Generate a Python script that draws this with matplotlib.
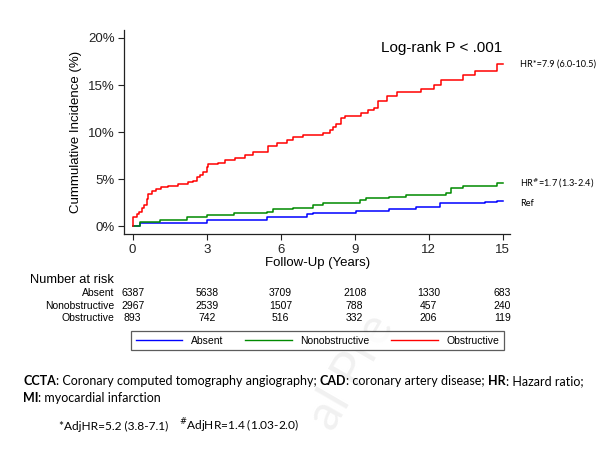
import matplotlib
matplotlib.use("Agg")
import matplotlib.pyplot as plt
import matplotlib.transforms as mtransforms
from matplotlib.lines import Line2D

# ---------------- data ----------------
red_t = [0, 0.03, 0.16, 0.26, 0.36, 0.46, 0.57, 0.63, 0.77, 0.93, 1.15, 1.44, 1.85, 2.25,
         2.46, 2.59, 2.73, 2.86, 3.0, 3.07, 3.47, 3.74, 4.15, 4.55, 4.89, 5.5, 5.84, 6.24,
         6.5, 6.92, 7.73, 8.0, 8.14, 8.25, 8.46, 8.6, 9.27, 9.54, 9.8, 9.94, 10.3, 10.7,
         11.7, 12.2, 12.5, 13.4, 13.9, 14.77, 15.0]
red_y = [0, 1.0, 1.24, 1.52, 1.88, 2.23, 2.84, 3.4, 3.72, 3.94, 4.18, 4.29, 4.47, 4.65,
         4.82, 5.18, 5.43, 5.78, 6.31, 6.6, 6.74, 7.02, 7.2, 7.55, 7.84, 8.5, 8.8, 9.2,
         9.5, 9.7, 9.9, 10.2, 10.5, 10.9, 11.5, 11.7, 12.0, 12.3, 12.6, 13.3, 13.8, 14.3,
         14.6, 15.0, 15.5, 16.1, 16.5, 17.2, 17.2]

green_t = [0, 0.3, 1.1, 2.2, 3.0, 4.1, 5.43, 5.7, 6.5, 7.3, 7.7, 8.0, 9.2, 9.47, 10.4,
           11.1, 12.7, 12.9, 13.4, 14.77, 15.0]
green_y = [0, 0.45, 0.64, 1.0, 1.18, 1.43, 1.54, 1.8, 1.96, 2.2, 2.4, 2.5, 2.8, 2.94, 3.1,
           3.3, 3.5, 4.0, 4.25, 4.55, 4.55]

blue_t = [0, 0.3, 3.0, 5.43, 7.05, 7.3, 8.25, 9.07, 10.4, 11.5, 12.2, 12.46, 13.5, 14.3, 14.77, 15.0]
blue_y = [0, 0.28, 0.64, 1.0, 1.25, 1.35, 1.4, 1.6, 1.8, 2.0, 2.06, 2.4, 2.4, 2.6, 2.7, 2.7]

groups = ["Absent", "Nonobstructive", "Obstructive"]
colors = ["#0000ff", "#008a00", "#ff0000"]
risk_times = [0, 3, 6, 9, 12, 15]
risk_absent = [6387, 5638, 3709, 2108, 1330, 683]
risk_nonobs = [2967, 2539, 1507, 788, 457, 240]
risk_obs = [893, 742, 516, 332, 206, 119]
y_ticks = [0, 5, 10, 15, 20]
y_ticklabels = ["0%", "5%", "10%", "15%", "20%"]

W, H = 616, 469
plt.rcParams['font.family'] = ['Liberation Sans', 'DejaVu Sans']
fig = plt.figure(figsize=(W / 100, H / 100), dpi=100)
fig.patch.set_facecolor("white")

def fx(x):
    return x / W

def fy(y):
    return 1 - y / H

# watermark (behind everything)
fig.text(fx(352), fy(372), "al Pre", fontsize=36, color="#f1f1f1", rotation=60,
         ha="center", va="center", zorder=0, family=['Lato', 'DejaVu Sans'])

ax = fig.add_axes([fx(124.3), fy(234.3), fx(510) - fx(124.3), fy(30) - fy(234.3)])
ax.patch.set_alpha(0)
ax.plot(blue_t, blue_y, drawstyle="steps-post", color=colors[0], lw=1.1)
ax.plot(green_t, green_y, drawstyle="steps-post", color=colors[1], lw=1.1)
ax.plot(red_t, red_y, drawstyle="steps-post", color=colors[2], lw=1.1)
ax.set_xlim(-0.34, 15.3)
ax.set_ylim(-0.88, 20.85)
ax.set_xticks(risk_times)
ax.set_yticks(y_ticks)
ax.set_yticklabels(y_ticklabels)
for s in ["top", "right"]:
    ax.spines[s].set_visible(False)
for s in ["left", "bottom"]:
    ax.spines[s].set_linewidth(0.9)
    ax.spines[s].set_color("#222222")
ax.tick_params(axis="both", labelsize=9.5, length=4, width=0.8, colors="#222222", pad=3)
ax.set_ylabel("Cummulative Incidence (%)", fontsize=9.5, labelpad=4)
ax.set_xlabel("Follow-Up (Years)", fontsize=9.5, labelpad=1)

ax.text(fx(502), fy(48), "Log-rank P < .001", transform=fig.transFigure, ha="right",
        va="center", fontsize=11)
ann_font = ['Lato', 'DejaVu Sans']
fig.text(fx(520), fy(64), "HR*=7.9 (6.0-10.5)", fontsize=6.6, va="center", family=ann_font)
fig.text(fx(520), fy(183), r"HR$^{\#}$=1.7 (1.3-2.4)", fontsize=6.6, va="center", family=ann_font)
fig.text(fx(520), fy(203), "Ref", fontsize=6.6, va="center", family=ann_font)

# number at risk
fig.text(fx(30), fy(280), "Number at risk", fontsize=9.3, va="center")
blend = mtransforms.blended_transform_factory(ax.transData, fig.transFigure)
rows = [risk_absent, risk_nonobs, risk_obs]
row_y = [293, 305.5, 318]
for name, vals, yy in zip(groups, rows, row_y):
    fig.text(fx(114), fy(yy), name, fontsize=7.5, ha="right", va="center")
    for t, v in zip(risk_times, vals):
        ax.text(t, fy(yy), str(v), transform=blend, fontsize=7.5, ha="center",
                va="center", clip_on=False)

# legend
handles = [Line2D([0], [0], color=c, lw=1.0) for c in colors]
leg = fig.legend(handles, groups, ncol=3, loc="center",
                 bbox_to_anchor=(fx(317.5), fy(340.5)), fontsize=7.5, frameon=True,
                 fancybox=False, edgecolor="#333333", handlelength=4.5,
                 handletextpad=0.8, columnspacing=2.1, borderpad=0.45)
leg.get_frame().set_linewidth(0.9)

# footnotes with mixed bold
fig.canvas.draw()
renderer = fig.canvas.get_renderer()
foot_font = ['Lato', 'DejaVu Sans']

def mixed(x, y, pieces, size):
    cur = x
    for txt, bold in pieces:
        t = fig.text(fx(cur), fy(y), txt, fontsize=size, va="baseline",
                     fontweight="bold" if bold else "normal", family=foot_font)
        bb = t.get_window_extent(renderer)
        cur += bb.width

mixed(23, 385, [("CCTA", True), (": Coronary computed tomography angiography; ", False),
                ("CAD", True), (": coronary artery disease; ", False),
                ("HR", True), (": Hazard ratio;", False)], 9.0)
mixed(23, 402, [("MI", True), (": myocardial infarction", False)], 9.0)
fig.text(fx(59), fy(430), "*AdjHR=5.2 (3.8-7.1)", fontsize=8.6, va="baseline", family=foot_font)
fig.text(fx(179), fy(430), r"$^{\#}$AdjHR=1.4 (1.03-2.0)", fontsize=8.6, va="baseline",
         family=foot_font)

fig.savefig("out.png", dpi=100, facecolor="white")
